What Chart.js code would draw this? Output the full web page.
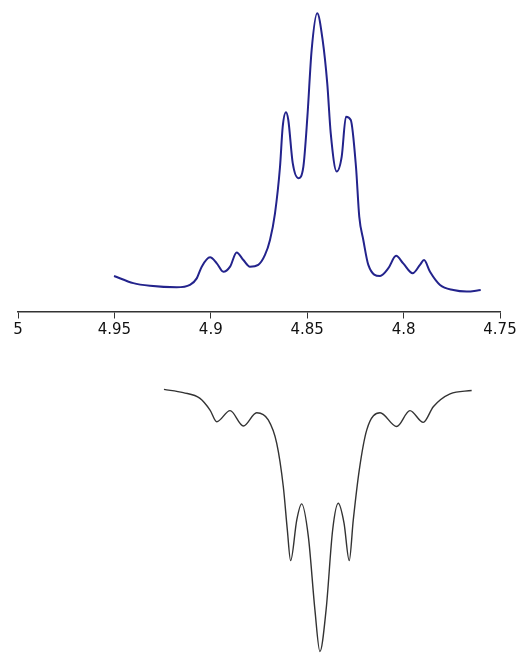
<!DOCTYPE html>
<html>
<head>
<meta charset="utf-8">
<script src="https://cdn.jsdelivr.net/npm/chart.js@4.4.1/dist/chart.umd.min.js"></script>
<style>
  html, body { margin: 0; padding: 0; background: #fff; }
  #wrap { width: 522px; height: 653px; position: relative; }
</style>
</head>
<body>
<div id="wrap"><canvas id="nmrChart"></canvas></div>
<script>
// Chemical shift (ppm) tick labels
const xTicks = [5, 4.95, 4.9, 4.85, 4.8, 4.75];

// Experimental spectrum (blue, top)
const expPpm = [4.9502, 4.9402, 4.9315, 4.9177, 4.9108, 4.9073, 4.9047, 4.9004, 4.8969, 4.8935,
    4.8900, 4.8866, 4.8831, 4.8797, 4.8754, 4.8719, 4.8693, 4.8667, 4.8641, 4.8627,
    4.8610, 4.8598, 4.8575, 4.8546, 4.8520, 4.8499, 4.8477, 4.8448, 4.8420, 4.8396,
    4.8378, 4.8347, 4.8321, 4.8299, 4.8274, 4.8247, 4.8230, 4.8209, 4.8183, 4.8122,
    4.8079, 4.8039, 4.8002, 4.7953, 4.7915, 4.7894, 4.7863, 4.7811, 4.7742, 4.7673, 4.7600];
const expIntensity = [12.0, 9.6, 8.7, 8.2, 9.0, 11.2, 15.1, 18.2, 16.2, 13.4,
    15.1, 19.8, 17.3, 15.1, 15.7, 19.0, 24.0, 32.9, 48.4, 61.8,
    66.6, 64.0, 49.6, 44.6, 48.4, 65.1, 87.3, 99.6, 90.7, 76.2,
    59.6, 46.8, 51.8, 65.1, 64.0, 48.4, 31.8, 24.0, 15.7, 12.0,
    14.6, 18.7, 16.2, 12.9, 15.7, 17.3, 13.4, 9.0, 7.3, 6.8, 7.3];

// Simulated spectrum (black, bottom, drawn inverted)
const simPpm = [4.9243, 4.9143, 4.9056, 4.9004, 4.8969, 4.8900, 4.8831, 4.8762, 4.8702, 4.8658,
    4.8624, 4.8603, 4.8586, 4.8554, 4.8529, 4.8494, 4.8460, 4.8434, 4.8402, 4.8368,
    4.8339, 4.8309, 4.8282, 4.8261, 4.8230, 4.8191, 4.8122, 4.8036, 4.7967, 4.7898,
    4.7846, 4.7759, 4.7647];
const simIntensity = [-25.8, -26.9, -28.8, -32.7, -36.6, -32.9, -38.0, -33.6, -36.0, -43.8,
    -58.2, -72.7, -82.9, -69.3, -64.0, -74.9, -99.3, -113.2, -99.3, -72.7,
    -63.8, -70.4, -82.9, -69.3, -52.7, -39.3, -33.6, -38.2, -32.9, -36.8,
    -31.6, -27.3, -26.2];

const toPoints = (xs, ys) => xs.map((x, i) => ({ x: x, y: ys[i] }));

new Chart(document.getElementById('nmrChart'), {
    type: 'line',
    data: {
        datasets: [{
            label: 'Experimental',
            data: toPoints(expPpm, expIntensity),
            borderColor: '#23238c',
            borderWidth: 2,
            pointRadius: 0,
            cubicInterpolationMode: 'monotone'
        }, {
            label: 'Simulated',
            data: toPoints(simPpm, simIntensity),
            borderColor: '#333333',
            borderWidth: 1.4,
            pointRadius: 0,
            cubicInterpolationMode: 'monotone'
        }]
    },
    options: {
        responsive: true,
        maintainAspectRatio: false,
        animation: false,
        layout: { padding: { left: 18, right: 22, top: 9, bottom: 0 } },
        plugins: {
            legend: { display: false },
            tooltip: { enabled: false }
        },
        scales: {
            x: {
                type: 'linear',
                reverse: true,
                min: 4.75,
                max: 5,
                position: { y: 0 },
                afterBuildTicks: (axis) => {
                    axis.ticks = xTicks.map(v => ({ value: v }));
                },
                ticks: {
                    color: '#111',
                    font: { family: 'DejaVu Sans', size: 15 },
                    padding: 3,
                    maxRotation: 0,
                    callback: (value) => String(+value.toFixed(2))
                },
                grid: {
                    drawOnChartArea: false,
                    drawTicks: true,
                    tickLength: 6,
                    color: '#333'
                },
                border: { display: true, color: '#333', width: 1.5 }
            },
            y: {
                display: false,
                min: -113.7,
                max: 101
            }
        }
    }
});
</script>
</body>
</html>
